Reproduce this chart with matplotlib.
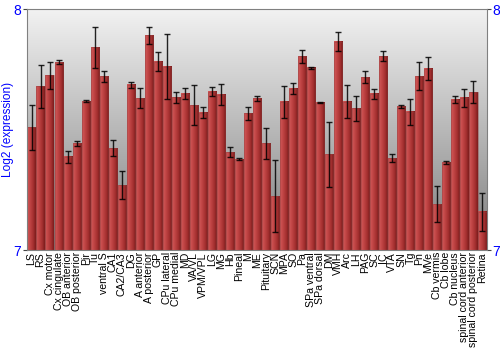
#!/usr/bin/env python3
"""Log2 expression per brain region, bar chart with error bars."""

import numpy as np
import matplotlib

matplotlib.use("Agg")
import matplotlib.pyplot as plt
from matplotlib.colors import LinearSegmentedColormap

plt.rcParams["font.family"] = ["Liberation Sans", "DejaVu Sans"]

regions = [
    "LS", "RS", "Cx motor", "Cx cingulate", "OB anterior", "OB posterior",
    "Pir", "Tu", "ventral S", "CA1", "CA2/CA3", "DG", "A anterior",
    "A posterior", "GP", "CPu lateral", "CPu medial", "MD", "VA/VL",
    "VPM/VPL", "LG", "MG", "Hb", "Pineal", "M", "ME", "Pituitary", "SCN",
    "MPA", "SO", "Pa", "SPa ventral", "SPa dorsal", "DM", "VMH", "Arc", "LH",
    "PAG", "SC", "IC", "VTA", "SN", "Tg", "Pn", "MVe", "Cb vermis",
    "Cb lobe", "Cb nucleus", "spinal cord anterior", "spinal cord posterior",
    "Retina",
]
expression = [
    7.51, 7.68, 7.726, 7.78, 7.387, 7.444,
    7.618, 7.842, 7.722, 7.423, 7.27, 7.687, 7.631,
    7.892, 7.783, 7.762, 7.635, 7.65, 7.602,
    7.571, 7.658, 7.646, 7.407, 7.378, 7.568, 7.631, 7.444, 7.224,
    7.615, 7.671, 7.805, 7.758, 7.611, 7.397, 7.866, 7.617, 7.588,
    7.718, 7.649, 7.806, 7.382, 7.598, 7.574, 7.723, 7.754, 7.191,
    7.364, 7.625, 7.632, 7.656,
    7.158,
]
errors = [
    0.093, 0.088, 0.056, 0.008, 0.025, 0.01,
    0.004, 0.085, 0.023, 0.033, 0.058, 0.012, 0.043,
    0.036, 0.041, 0.135, 0.023, 0.022, 0.083,
    0.024, 0.02, 0.044, 0.019, 0.003, 0.028, 0.01, 0.065, 0.151,
    0.066, 0.024, 0.026, 0.004, 0.002, 0.136, 0.041, 0.067, 0.05,
    0.024, 0.022, 0.019, 0.016, 0.006, 0.054, 0.057, 0.048, 0.075,
    0.005, 0.016, 0.039, 0.046,
    0.079,
]
y_min, y_max = 7, 8
blue = "#0000ff"

fig = plt.figure(figsize=(5, 3.5), dpi=100)
ax = fig.add_axes([0.054, 0.2857, 0.92, 0.6876])

x = np.arange(len(regions))
vals = np.array(expression)

# grey vertical gradient background
bg = LinearSegmentedColormap.from_list("bg", ["#7e7e7e", "#b8b8b8", "#f2f2f2"])
grad = np.linspace(0, 1, 256).reshape(-1, 1)
ax.imshow(grad, cmap=bg, aspect="auto", origin="lower",
          extent=(0, 1, 0, 1), transform=ax.transAxes, zorder=0)

bars = ax.bar(x, vals - y_min, bottom=y_min, width=0.9,
              color="none", edgecolor=(0.55, 0.25, 0.25, 0.5),
              linewidth=0.6, zorder=2)

# horizontal red shading inside each bar
red = LinearSegmentedColormap.from_list(
    "red", ["#d25a5a", "#c04545", "#a83232", "#7c1c1c"])
hgrad = np.linspace(0, 1, 64).reshape(1, -1)
for b in bars:
    x0, w, y0, h = b.get_x(), b.get_width(), b.get_y(), b.get_height()
    ax.imshow(hgrad, cmap=red, aspect="auto",
              extent=(x0, x0 + w, y0, y0 + h), zorder=1.5)

ax.errorbar(x, vals, yerr=errors, fmt="none", ecolor="black",
            elinewidth=1.0, capsize=2.3, capthick=1.0, alpha=0.85, zorder=3)

ax.set_xlim(-0.5, len(regions) - 0.5)
ax.set_ylim(y_min, y_max)
ax.set_yticks([7, 8])
ax.set_xticks(x)
ax.set_xticklabels(regions, rotation=90, fontsize=7.6)
ax.tick_params(axis="x", length=0, pad=1.5)
ax.tick_params(axis="y", labelcolor=blue, labelsize=10, length=3,
               color="#444444", right=True, labelright=True, pad=1)
ax.set_ylabel("Log2 (expression)", color=blue, fontsize=8.6, labelpad=0)

for s in ax.spines.values():
    s.set_color("#808080")

fig.savefig("out.png", dpi=100)
